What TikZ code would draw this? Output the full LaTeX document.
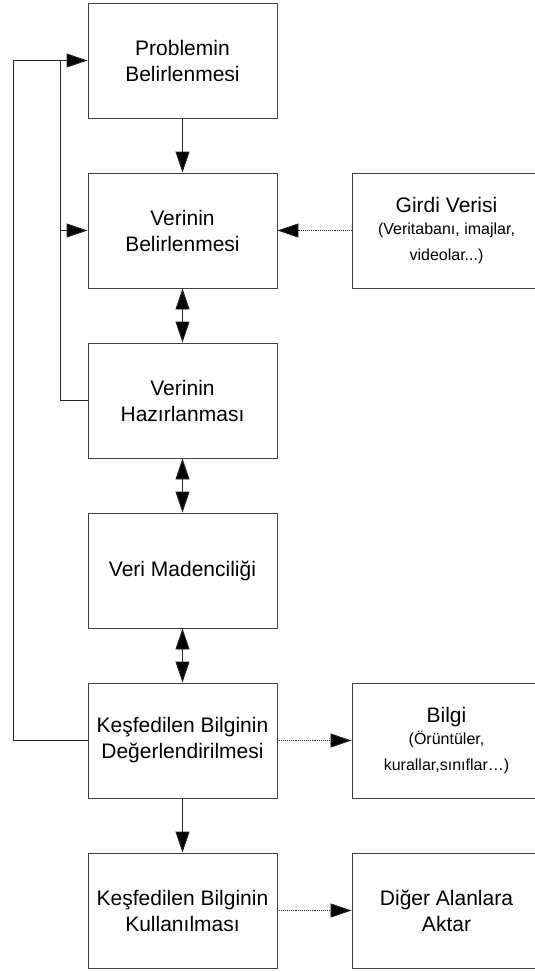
\documentclass[tikz,border=0pt]{standalone}
\usepackage{fontspec}
\setmainfont{Liberation Sans}
\usetikzlibrary{arrows.meta}
\begin{document}
\begin{tikzpicture}[x=1pt,y=-1pt,
  box/.style={draw=black!75, line width=0.9pt, minimum width=189pt, minimum height=115pt,
    align=center, font=\fontsize{21}{26}\selectfont, inner sep=0pt},
  conn/.style={line width=0.9pt, draw=black!85},
  tip/.style={-{Triangle[length=21pt,width=14pt,fill=black]}},
  dtip/.style={{Triangle[length=21pt,width=14pt,fill=black]}-{Triangle[length=21pt,width=14pt,fill=black]}},
  dotline/.style={densely dotted, line width=0.8pt}]
\useasboundingbox (0,0) rectangle (535,972);
\begin{scope}
\clip (0,0) rectangle (535,972);
\node[box] (b1) at (182.5,60.5) {Problemin\\Belirlenmesi};
\node[box] (b2) at (182.5,230.5) {Verinin\\Belirlenmesi};
\node[box] (b3) at (182.5,400.5) {Verinin\\Hazırlanması};
\node[box] (b4) at (182.5,570.5) {Veri Madenciliği};
\node[box] (b5) at (182.5,740.5) {Keşfedilen Bilginin\\Değerlendirilmesi};
\node[box] (b6) at (182.5,910.5) {Keşfedilen Bilginin\\Kullanılması};
\node[box] (g) at (446.5,230.5) {Girdi Verisi\\[-4pt]\fontsize{16}{22}\selectfont (Veritabanı, imajlar,\\\fontsize{16}{24}\selectfont videolar...)};
\node[box] (k) at (446.5,740.5) {Bilgi\\[-4pt]\fontsize{16}{22}\selectfont (Örüntüler,\\\fontsize{16}{24}\selectfont kurallar,sınıflar…)};
\node[box] (d) at (446.5,910.5) {Diğer Alanlara\\Aktar};
\end{scope}
\coordinate (oL) at (13,0);
\coordinate (iL) at (60,0);
\draw[conn,tip] (b1) -- (b2);
\draw[conn,dtip] (b2) -- (b3);
\draw[conn,dtip] (b3) -- (b4);
\draw[conn,dtip] (b4) -- (b5);
\draw[conn,tip] (b5) -- (b6);
\draw[conn,dotline,tip] (g) -- (b2);
\draw[conn,dotline,tip] (b5) -- (k);
\draw[conn,dotline,tip] (b6) -- (d);
\draw[conn,tip] (b5.west) -- (b5.west -| oL) |- (b1.west);
\draw[conn] (b3.west) -- (b3.west -| iL) -- (b1.west -| iL);
\draw[conn,tip] (b2.west -| iL) -- (b2.west);
\end{tikzpicture}
\end{document}
